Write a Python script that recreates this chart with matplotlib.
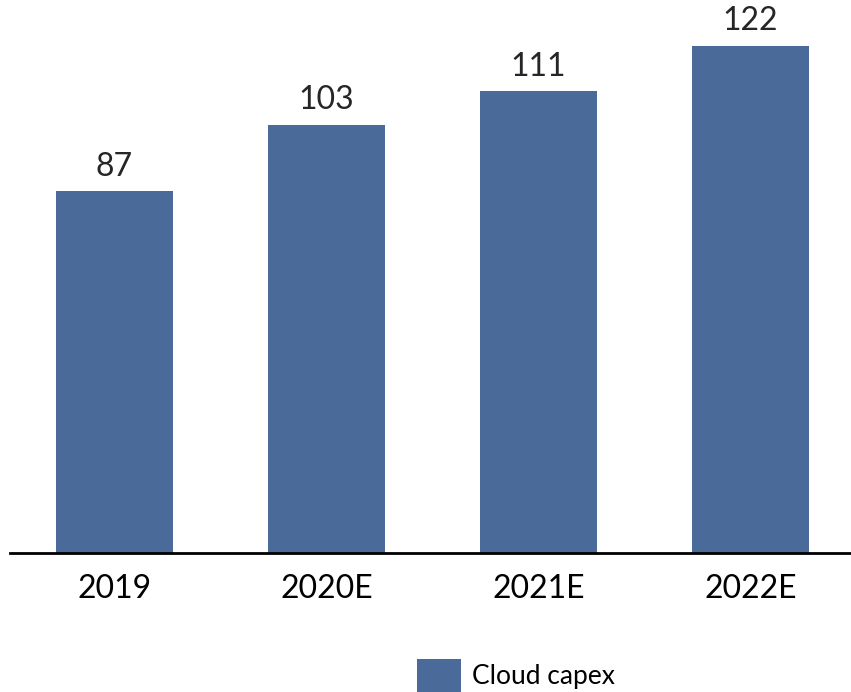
import matplotlib.pyplot as plt
import numpy as np

plt.rcParams['font.family'] = ['Lato', 'DejaVu Sans']

years = ['2019', '2020E', '2021E', '2022E']
capex = [87, 103, 111, 122]
bar_color = '#4A6A99'

fig = plt.figure(figsize=(8.51, 6.92), dpi=100)
ax = fig.add_axes([10 / 851, 139 / 692, 841 / 851, 553 / 692])

x = np.arange(len(years))
bars = ax.bar(x, capex, width=0.552, color=bar_color, label='Cloud capex', zorder=2)

for xi, v in zip(x, capex):
    ax.annotate(str(v), (xi, v), xytext=(0, 7), textcoords='offset points',
                ha='center', va='bottom', fontsize=23, color='#262626')

ax.set_xlim(-0.493, 3.474)
ax.set_ylim(0, 133)
ax.set_xticks(x)
ax.set_xticklabels(years, fontsize=23)
ax.tick_params(axis='x', length=0, pad=15)
ax.set_yticks([])
for side in ['left', 'right', 'top']:
    ax.spines[side].set_visible(False)
ax.spines['bottom'].set_linewidth(2)
ax.spines['bottom'].set_zorder(3)

fig.legend(handles=[bars], labels=['Cloud capex'], loc='lower left',
           bbox_to_anchor=(417 / 851, 0.0), frameon=False, fontsize=19,
           handlelength=1.65, handleheight=1.55, handletextpad=0.45,
           borderpad=0, borderaxespad=0)

fig.savefig('out.png', dpi=100)
